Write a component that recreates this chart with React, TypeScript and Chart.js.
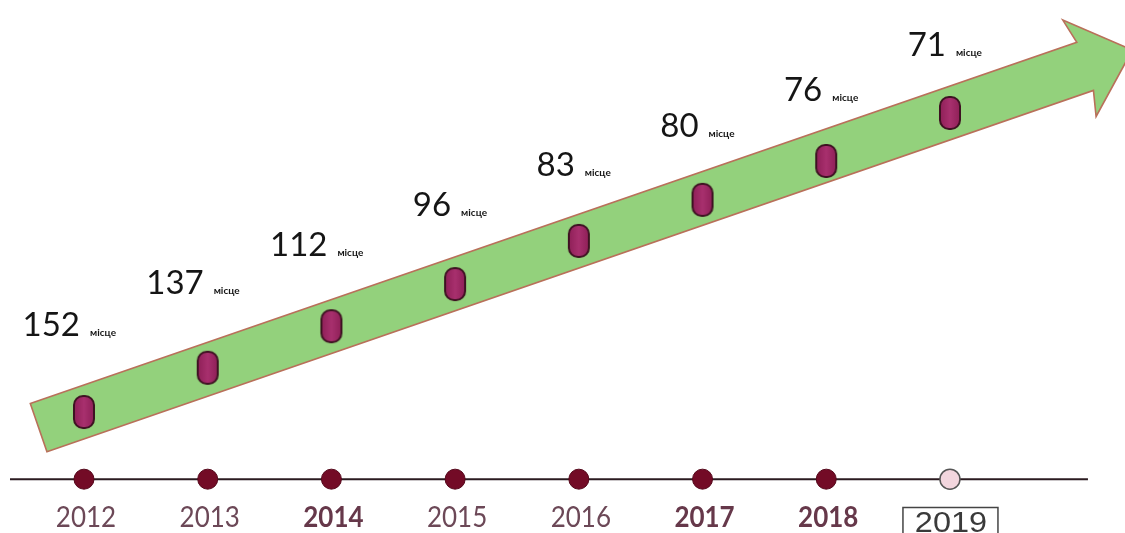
import React, { useEffect, useRef } from "react";
import { Chart, registerables } from "chart.js";

Chart.register(...registerables);

// ---- data ----
const years = [2012, 2013, 2014, 2015, 2016, 2017, 2018, 2019];
const ranks = [152, 137, 112, 96, 83, 80, 76, 71];
const rankUnit = "місце";
// height of each step on the arrow (arbitrary progress units, 0..100)
const markerLevel = [22.7, 31.0, 38.8, 46.7, 54.8, 62.5, 69.8, 78.8];
const timelineLevel = 10.1;
const yearStyle = ["normal", "normal", "bold", "normal", "normal", "bold", "bold", "boxed"];

const W = 1125;
const H = 533;

function makeMarkerImage(): HTMLCanvasElement {
  const c = document.createElement("canvas");
  c.width = 24;
  c.height = 36;
  const g = c.getContext("2d")!;
  g.beginPath();
  (g as any).roundRect(2, 2, 20, 32, 9);
  const grad = g.createLinearGradient(2, 0, 22, 0);
  grad.addColorStop(0, "#8f2058");
  grad.addColorStop(0.5, "#a8306e");
  grad.addColorStop(1, "#8f2058");
  g.fillStyle = grad;
  g.fill();
  g.lineWidth = 2;
  g.strokeStyle = "#3e1222";
  g.stroke();
  return c;
}

const arrowPlugin = {
  id: "arrowShape",
  beforeDatasetsDraw(chart: any) {
    const ctx = chart.ctx;
    const meta = chart.getDatasetMeta(0);
    const pts = meta.data;
    if (!pts.length) return;
    const p0 = pts[0];
    const p1 = pts[pts.length - 1];
    const dx = p1.x - p0.x;
    const dy = p1.y - p0.y;
    const len = Math.hypot(dx, dy);
    const ux = dx / len;
    const uy = dy / len;
    const nx = -uy;
    const ny = ux; // perpendicular
    const half = 25.5;
    const headHalf = 51;
    const sx = p0.x - 48 * ux;
    const sy = p0.y - 48 * uy;
    const ex = p1.x + 143 * ux;
    const ey = p1.y + 143 * uy;
    const tx = ex + 50 * ux;
    const ty = ey + 50 * uy;
    ctx.save();
    ctx.beginPath();
    ctx.moveTo(sx - half * nx, sy - half * ny);
    ctx.lineTo(ex - half * nx, ey - half * ny);
    ctx.lineTo(ex - headHalf * nx - 6 * ux, ey - headHalf * ny - 6 * uy);
    ctx.lineTo(tx, ty);
    ctx.lineTo(ex + headHalf * nx - 6 * ux, ey + headHalf * ny - 6 * uy);
    ctx.lineTo(ex + half * nx, ey + half * ny);
    ctx.lineTo(sx + half * nx, sy + half * ny);
    ctx.closePath();
    ctx.fillStyle = "#93d17c";
    ctx.fill();
    ctx.lineWidth = 1.6;
    ctx.strokeStyle = "#b9705a";
    ctx.stroke();

    // timeline line
    const dots = chart.getDatasetMeta(1).data;
    const ly = chart.scales.y.getPixelForValue(timelineLevel);
    ctx.beginPath();
    ctx.moveTo(dots[0].x - 74, ly);
    ctx.lineTo(dots[dots.length - 1].x + 138, ly);
    ctx.lineWidth = 2;
    ctx.strokeStyle = "#2b1b20";
    ctx.stroke();
    ctx.restore();
  },
};

const labelPlugin = {
  id: "textLabels",
  afterDatasetsDraw(chart: any) {
    const ctx = chart.ctx;
    const pts = chart.getDatasetMeta(0).data;
    const dots = chart.getDatasetMeta(1).data;
    const n = pts.length;
    ctx.save();
    // rank labels
    pts.forEach((p: any, i: number) => {
      const off = 76 - (19 * i) / (n - 1);
      const right = p.x - 4;
      const base = p.y - off;
      ctx.fillStyle = "#151515";
      ctx.textBaseline = "alphabetic";
      ctx.textAlign = "right";
      ctx.font = "33px Lato";
      ctx.fillText(String(ranks[i]), right, base);
      ctx.textAlign = "left";
      ctx.font = "bold 10px Lato";
      ctx.fillText(rankUnit, right + 10, base);
    });
    // year labels
    dots.forEach((d: any, i: number) => {
      const style = yearStyle[i];
      ctx.save();
      ctx.textAlign = "center";
      ctx.textBaseline = "alphabetic";
      if (style === "boxed") {
        ctx.lineWidth = 1.5;
        ctx.strokeStyle = "#444444";
        ctx.strokeRect(d.x - 47, 507.5, 95, 32);
        ctx.translate(d.x + 1, 532);
        ctx.scale(1.12, 1);
        ctx.fillStyle = "#3a3a3a";
        ctx.font = "29px 'Liberation Sans'";
        ctx.fillText(String(years[i]), 0, 0);
      } else {
        ctx.translate(d.x + 2, 527);
        ctx.scale(1, 1.12);
        ctx.fillStyle = style === "bold" ? "#66384a" : "#6c4857";
        ctx.font = (style === "bold" ? "bold " : "") + "26px Lato";
        ctx.fillText(String(years[i]), 0, 0);
      }
      ctx.restore();
    });
    ctx.restore();
  },
};

export default function App() {
  const ref = useRef<HTMLCanvasElement>(null);
  useEffect(() => {
    document.body.style.margin = "0";
    const markerImg = makeMarkerImage();
    const chart = new Chart(ref.current!, {
      type: "scatter",
      data: {
        datasets: [
          {
            label: "rank",
            data: years.map((y, i) => ({ x: y, y: markerLevel[i] })),
            pointStyle: markerImg as any,
            pointRadius: 12,
            showLine: false,
            clip: false as any,
          },
          {
            label: "timeline",
            data: years.map((y) => ({ x: y, y: timelineLevel })),
            pointStyle: "circle",
            pointRadius: 10,
            pointBackgroundColor: yearStyle.map((s) => (s === "boxed" ? "#f3d6de" : "#730b26")),
            pointBorderColor: yearStyle.map((s) => (s === "boxed" ? "#555555" : "#55081b")),
            pointBorderWidth: yearStyle.map((s) => (s === "boxed" ? 1.5 : 1)),
            showLine: false,
            clip: false as any,
          },
        ],
      },
      options: {
        animation: false,
        responsive: false,
        devicePixelRatio: 1,
        layout: { padding: 0, autoPadding: false },
        events: [],
        plugins: { legend: { display: false }, tooltip: { enabled: false } },
        scales: {
          x: { type: "linear", display: false, min: 2011.321, max: 2020.415 },
          y: { type: "linear", display: false, min: 0, max: 100 },
        },
      },
      plugins: [arrowPlugin, labelPlugin],
    });
    return () => chart.destroy();
  }, []);
  return (
    <div style={{ position: "absolute", left: 0, top: 0, width: W, height: H, background: "#ffffff" }}>
      <canvas ref={ref} width={W} height={H} style={{ display: "block" }} />
    </div>
  );
}
